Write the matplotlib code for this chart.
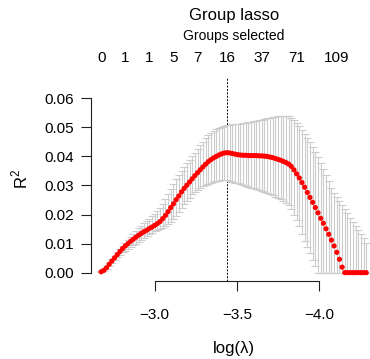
import numpy as np
import matplotlib
matplotlib.use("Agg")
import matplotlib.pyplot as plt
import matplotlib.transforms as mtransforms

plt.rcParams['font.family'] = ['Liberation Sans', 'DejaVu Sans']
plt.rcParams['mathtext.fontset'] = 'custom'
plt.rcParams['mathtext.rm'] = 'Liberation Sans'

# lambda grid (log scale, 100 values, largest lambda first)
loglam_first = -2.675
loglam_last = -4.287
n_lambda = 100

# cross-validated R^2 (mean)
r2_mean = [
    0.0003, 0.0008, 0.0017, 0.0029, 0.0040, 0.0051, 0.0062, 0.0073, 0.0083, 0.0092,
    0.0100, 0.0108, 0.0115, 0.0122, 0.0129, 0.0135, 0.0141, 0.0146, 0.0152, 0.0157,
    0.0163, 0.0169, 0.0176, 0.0186, 0.0197, 0.0210, 0.0224, 0.0237, 0.0251, 0.0264,
    0.0278, 0.0290, 0.0301, 0.0312, 0.0323, 0.0334, 0.0344, 0.0354, 0.0364, 0.0373,
    0.0382, 0.0389, 0.0395, 0.0400, 0.0405, 0.0409, 0.0412, 0.0413, 0.0412, 0.0410,
    0.0408, 0.0406, 0.0405, 0.0404, 0.0404, 0.0403, 0.0403, 0.0403, 0.0403, 0.0402,
    0.0402, 0.0401, 0.0400, 0.0398, 0.0396, 0.0393, 0.0390, 0.0387, 0.0383, 0.0379,
    0.0374, 0.0366, 0.0354, 0.0340, 0.0326, 0.0310, 0.0294, 0.0276, 0.0259, 0.0242,
    0.0224, 0.0206, 0.0187, 0.0170, 0.0151, 0.0132, 0.0112, 0.0092, 0.0070, 0.0046,
    0.0019, 0.0, 0.0, 0.0, 0.0, 0.0, 0.0, 0.0, 0.0, 0.0,
]

# upper end of the error bars
r2_upper = [
    0.0005, 0.0012, 0.0022, 0.0034, 0.0046, 0.0058, 0.0070, 0.0082, 0.0093, 0.0103,
    0.0113, 0.0123, 0.0133, 0.0143, 0.0153, 0.0162, 0.0170, 0.0178, 0.0186, 0.0194,
    0.0203, 0.0213, 0.0224, 0.0238, 0.0254, 0.0271, 0.0288, 0.0305, 0.0321, 0.0336,
    0.0350, 0.0363, 0.0376, 0.0389, 0.0401, 0.0413, 0.0426, 0.0438, 0.0450, 0.0462,
    0.0473, 0.0482, 0.0489, 0.0495, 0.0499, 0.0503, 0.0506, 0.0508, 0.0509, 0.0510,
    0.0511, 0.0512, 0.0513, 0.0514, 0.0516, 0.0517, 0.0519, 0.0521, 0.0523, 0.0525,
    0.0527, 0.0529, 0.0531, 0.0533, 0.0535, 0.0537, 0.0538, 0.0539, 0.0540, 0.0540,
    0.0538, 0.0533, 0.0525, 0.0515, 0.0504, 0.0491, 0.0478, 0.0464, 0.0449, 0.0433,
    0.0415, 0.0397, 0.0378, 0.0358, 0.0336, 0.0314, 0.0292, 0.0275, 0.0260, 0.0246,
    0.0232, 0.0218, 0.0204, 0.0189, 0.0175, 0.0161, 0.0148, 0.0133, 0.0118, 0.0101,
]

# lower end of the error bars
r2_lower = [
    0.0001, 0.0004, 0.0012, 0.0023, 0.0034, 0.0044, 0.0053, 0.0062, 0.0070, 0.0076,
    0.0082, 0.0088, 0.0094, 0.0100, 0.0106, 0.0113, 0.0120, 0.0126, 0.0132, 0.0137,
    0.0142, 0.0146, 0.0150, 0.0155, 0.0161, 0.0168, 0.0174, 0.0183, 0.0196, 0.0210,
    0.0223, 0.0235, 0.0247, 0.0258, 0.0270, 0.0279, 0.0286, 0.0292, 0.0297, 0.0301,
    0.0305, 0.0308, 0.0311, 0.0314, 0.0316, 0.0318, 0.0319, 0.0320, 0.0317, 0.0313,
    0.0310, 0.0307, 0.0304, 0.0302, 0.0299, 0.0296, 0.0293, 0.0290, 0.0287, 0.0284,
    0.0281, 0.0278, 0.0274, 0.0270, 0.0266, 0.0262, 0.0257, 0.0252, 0.0246, 0.0240,
    0.0232, 0.0218, 0.0200, 0.0181, 0.0160, 0.0134, 0.0110, 0.0088, 0.0067, 0.0045,
    0.0022, 0.0, 0.0, 0.0, 0.0, 0.0, 0.0, 0.0, 0.0, 0.0,
    0.0, 0.0, 0.0, 0.0, 0.0, 0.0, 0.0, 0.0, 0.0, 0.0,
]

# top axis: number of groups selected at a few lambdas (index into grid)
sel_idx = [0, 9, 18, 27, 36, 47, 60, 73, 88]
n_groups = [0, 1, 1, 5, 7, 16, 37, 71, 109]

xticks = [-3.0, -3.5, -4.0]
yticks = [0.00, 0.01, 0.02, 0.03, 0.04, 0.05, 0.06]

loglam = np.linspace(loglam_first, loglam_last, n_lambda)
r2_mean = np.array(r2_mean)
r2_upper = np.array(r2_upper)
r2_lower = np.array(r2_lower)

W, H = 370, 359
fig = plt.figure(figsize=(W / 100, H / 100), dpi=100)
left, right, top, bottom = 91, 370, 78, 280.5
ax = fig.add_axes([left / W, 1 - bottom / H, (right - left) / W, (bottom - top) / H])

ax.set_xlim(-2.613, -4.31)
ax.set_ylim(-0.0027, 0.067)

# vertical line at lambda.min
ax.axvline(loglam[np.argmax(r2_mean)], color='black', lw=0.7,
           linestyle=(0, (2, 1.5)), zorder=1)

ax.errorbar(loglam, r2_mean, yerr=[r2_mean - r2_lower, r2_upper - r2_mean],
            fmt='none', ecolor='#cccccc', elinewidth=0.8, capsize=2.8,
            capthick=0.8, zorder=2)
ax.scatter(loglam, r2_mean, s=14, color='red', edgecolors='none', zorder=3)

for s in ['top', 'right']:
    ax.spines[s].set_visible(False)
ax.spines['left'].set_bounds(yticks[0], yticks[-1])
ax.spines['bottom'].set_bounds(min(xticks), max(xticks))
for s in ['left', 'bottom']:
    ax.spines[s].set_linewidth(0.8)
    ax.spines[s].set_color('#222222')

ax.set_xticks(xticks)
ax.set_xticklabels([f"{v:.1f}".replace('-', '\u2212') for v in xticks])
ax.set_yticks(yticks)
ax.set_yticklabels([f"{v:.2f}" for v in yticks])
ax.tick_params(axis='both', length=7, width=0.8, color='#222222', labelsize=11)
ax.tick_params(axis='x', pad=13)
ax.tick_params(axis='y', pad=5)

# labels
fig.text(20 / W, 1 - 179 / H, r'$\mathrm{R}^{2}$', rotation=90, ha='center',
         va='center', fontsize=12)
fig.text(((left + 376) / 2) / W, 1 - 348 / H, 'log(\u03bb)', ha='center',
         va='center', fontsize=12)

# top axis
fig.text(234 / W, 1 - 20 / H, 'Group lasso', ha='center', va='baseline', fontsize=12)
fig.text(234 / W, 1 - 40 / H, 'Groups selected', ha='center', va='baseline', fontsize=10)
trans = mtransforms.blended_transform_factory(ax.transData, fig.transFigure)
for i, n in zip(sel_idx, n_groups):
    ax.text(loglam[i], 1 - 61.7 / H, str(n), transform=trans, ha='center',
            va='baseline', fontsize=11, clip_on=False)

fig.savefig('out.png', dpi=100)
